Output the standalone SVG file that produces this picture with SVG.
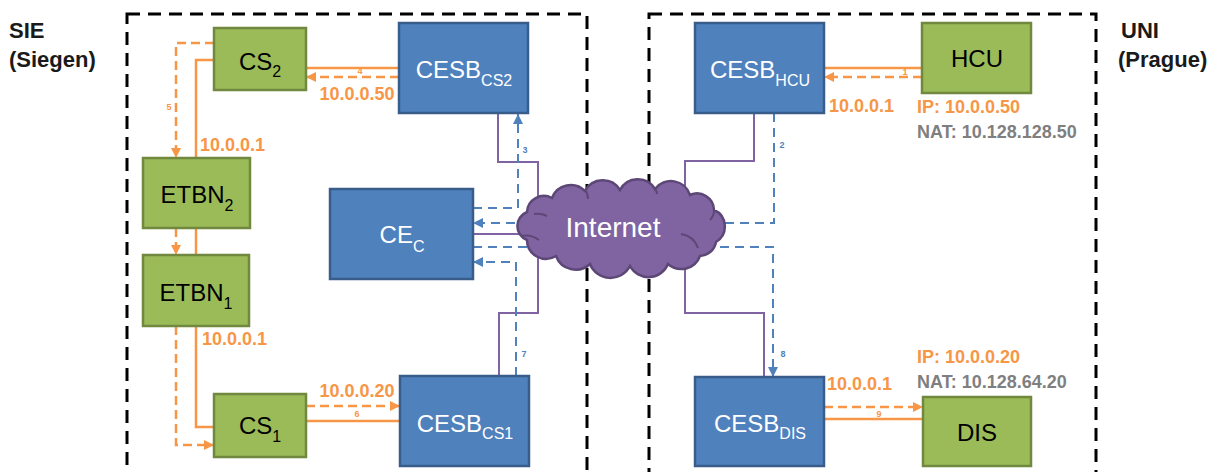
<svg xmlns="http://www.w3.org/2000/svg" width="1225" height="472" viewBox="0 0 1225 472">
<style>
text{font-family:"Liberation Sans",Arial,sans-serif}
.g{fill:#9BBB59;stroke:#71893F;stroke-width:2.5}
.b{fill:#4F81BD;stroke:#385D8A;stroke-width:2.5}
.gt{font-size:24px;fill:#000;text-anchor:middle}
.bt{font-size:24px;fill:#fff;text-anchor:middle}
.sub{font-size:16px}
.site{font-size:22px;font-weight:bold;fill:#1a1a1a}
.ip{font-size:18px;font-weight:bold;fill:#F79646}
.nat{font-size:18px;font-weight:bold;fill:#7F7F7F}
.zone{fill:none;stroke:#000;stroke-width:3;stroke-dasharray:13 8}
.os{fill:none;stroke:#F79646;stroke-width:2.5}
.od{fill:none;stroke:#F79646;stroke-width:2.5;stroke-dasharray:9 5;marker-end:url(#ao)}
.bd{fill:none;stroke:#4F81BD;stroke-width:2;stroke-dasharray:9 6}
.bda{fill:none;stroke:#4F81BD;stroke-width:2;stroke-dasharray:9 6;marker-end:url(#ab)}
.pl{fill:none;stroke:#8064A2;stroke-width:2}
.ci{fill:none;stroke:#5C4776;stroke-width:2}
.no{font-size:9px;font-weight:bold;fill:#F79646;text-anchor:middle}
.nb{font-size:9px;font-weight:bold;fill:#4F81BD;text-anchor:middle}
</style>
<defs>
<marker id="ao" viewBox="0 0 10 10" refX="10" refY="5" markerWidth="10" markerHeight="10" markerUnits="userSpaceOnUse" orient="auto">
<path d="M0,0 L10,5 L0,10 z" fill="#F79646"/>
</marker>
<marker id="ab" viewBox="0 0 10 10" refX="10" refY="5" markerWidth="10" markerHeight="10" markerUnits="userSpaceOnUse" orient="auto">
<path d="M0,0 L10,5 L0,10 z" fill="#4F81BD"/>
</marker>
</defs>
<rect width="1225" height="472" fill="#fff"/>
<g id="zones">
<rect class="zone" x="127" y="14" width="460" height="490"/>
<rect class="zone" x="649" y="14" width="447" height="490"/>
<text class="site" x="9" y="38">SIE</text>
<text class="site" x="9" y="67">(Siegen)</text>
<text class="site" x="1121" y="38">UNI</text>
<text class="site" x="1118" y="67">(Prague)</text>
</g>
<g id="connectors">
<path class="os" d="M922 68 H824"/>
<path class="od" d="M922 77 H824"/>
<path class="os" d="M399 68 H306"/>
<path class="od" d="M399 77 H306"/>
<path class="os" d="M214 60 H196 V158"/>
<path class="od" d="M214 43 H176 V158"/>
<path class="os" d="M196 228 V255"/>
<path class="od" d="M176 228 V255"/>
<path class="os" d="M196 326 V427 H214"/>
<path class="od" d="M176 326 V445 H214"/>
<path class="od" d="M306 406 H400"/>
<path class="os" d="M306 421 H400"/>
<path class="od" d="M824 407 H923"/>
<path class="os" d="M824 419 H923"/>
<path class="pl" d="M498 113 V162 H538 V215"/>
<path class="pl" d="M473 234 H530"/>
<path class="pl" d="M538 255 V313 H499 V376"/>
<path class="pl" d="M754 113 V161 H685 V205"/>
<path class="pl" d="M685 255 V313 H764 V377"/>
<path class="bda" d="M473 208 H518 V114"/>
<path class="bda" d="M530 223 H473"/>
<path class="bd" d="M473 247 H530"/>
<path class="bda" d="M516 376 V262 H473"/>
<path class="bd" d="M774 113 V223 H712"/>
<path class="bda" d="M705 247 H773 V377"/>
<text class="no" x="905" y="75">1</text>
<text class="no" x="360" y="74">4</text>
<text class="no" x="169" y="110">5</text>
<text class="no" x="357" y="417">6</text>
<text class="no" x="879" y="417">9</text>
<text class="nb" x="782" y="148">2</text>
<text class="nb" x="525" y="153">3</text>
<text class="nb" x="524" y="357">7</text>
<text class="nb" x="783" y="357">8</text>
<text class="ip" x="357" y="100" text-anchor="middle">10.0.0.50</text>
<text class="ip" x="200" y="151">10.0.0.1</text>
<text class="ip" x="202" y="345">10.0.0.1</text>
<text class="ip" x="357" y="397" text-anchor="middle">10.0.0.20</text>
<text class="ip" x="829" y="112">10.0.0.1</text>
<text class="ip" x="827" y="390">10.0.0.1</text>
<text class="ip" x="917" y="113">IP: 10.0.0.50</text>
<text class="nat" x="917" y="138">NAT: 10.128.128.50</text>
<text class="ip" x="917" y="363">IP: 10.0.0.20</text>
<text class="nat" x="917" y="388">NAT: 10.128.64.20</text>
</g>
<g id="internet">
<path d="M527 240 A15 15 0 0 1 527 212 A17 17 0 0 1 552 198 A20 20 0 0 1 585 191 A20 20 0 0 1 620 190 A20 20 0 0 1 655 189 A20 20 0 0 1 690 195 A17 17 0 0 1 714 210 A18 18 0 0 1 716 242 A17 17 0 0 1 700 256 A20 20 0 0 1 668 264 A21 21 0 0 1 630 266 A22 22 0 0 1 590 264 A21 21 0 0 1 556 256 A19 19 0 0 1 527 240 Z" fill="#8064A2" stroke="#5C4776" stroke-width="2.5"/>
<path class="ci" d="M521 236 Q531 234 539 240"/>
<path class="ci" d="M534 214 Q541 213 547 216"/>
<path class="ci" d="M586 191 Q588 195 588 199"/>
<path class="ci" d="M655 189 Q657 191 657 194"/>
<path class="ci" d="M714 211 Q714 216 710 220"/>
<path class="ci" d="M681 234 Q694 236 698 248"/>
<text x="613" y="237" font-size="28" fill="#fff" text-anchor="middle">Internet</text>
</g>
<g id="CS2"><rect class="g" x="214" y="28" width="92" height="62"/><text class="gt" x="260" y="70">CS<tspan class="sub" dy="7">2</tspan></text></g>
<g id="CESB_CS2"><rect class="b" x="399" y="23" width="129" height="90"/><text class="bt" x="464" y="78">CESB<tspan class="sub" dy="8">CS2</tspan></text></g>
<g id="ETBN2"><rect class="g" x="143" y="158" width="107" height="70"/><text class="gt" x="197" y="203">ETBN<tspan class="sub" dy="8">2</tspan></text></g>
<g id="ETBN1"><rect class="g" x="143" y="255" width="106" height="71"/><text class="gt" x="196" y="301">ETBN<tspan class="sub" dy="8">1</tspan></text></g>
<g id="CS1"><rect class="g" x="214" y="394" width="92" height="63"/><text class="gt" x="260" y="434">CS<tspan class="sub" dy="8">1</tspan></text></g>
<g id="CESB_CS1"><rect class="b" x="400" y="376" width="129" height="90"/><text class="bt" x="465" y="432">CESB<tspan class="sub" dy="7">CS1</tspan></text></g>
<g id="CE_C"><rect class="b" x="330" y="189" width="143" height="90"/><text class="bt" x="402" y="243">CE<tspan class="sub" dy="9">C</tspan></text></g>
<g id="CESB_HCU"><rect class="b" x="695" y="23" width="129" height="90"/><text class="bt" x="760" y="78">CESB<tspan class="sub" dy="8">HCU</tspan></text></g>
<g id="HCU"><rect class="g" x="922" y="23" width="109" height="70"/><text class="gt" x="977" y="67">HCU</text></g>
<g id="CESB_DIS"><rect class="b" x="695" y="377" width="129" height="89"/><text class="bt" x="760" y="432">CESB<tspan class="sub" dy="7">DIS</tspan></text></g>
<g id="DIS"><rect class="g" x="923" y="397" width="108" height="69"/><text class="gt" x="977" y="441">DIS</text></g>
</svg>
